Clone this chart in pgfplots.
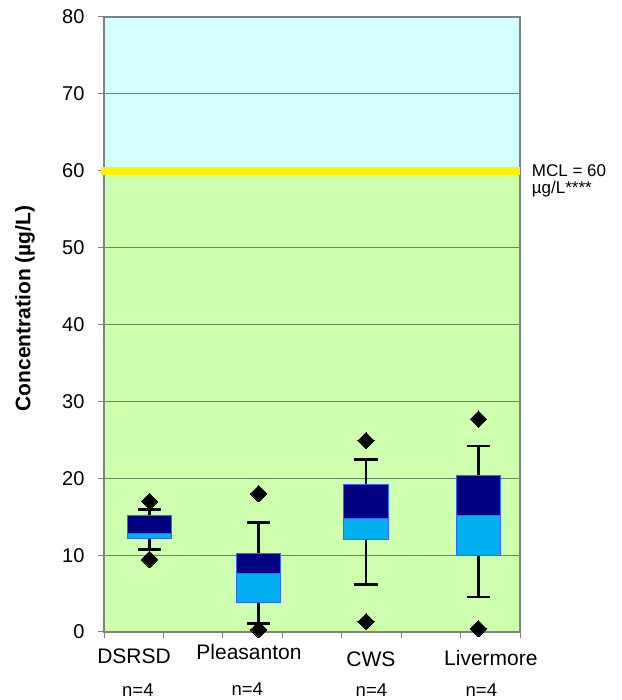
\documentclass[border=0pt]{standalone}
\usepackage{pgfplots}
\pgfplotsset{compat=1.18}
\usepgfplotslibrary{statistics}
\usepackage{fontspec}
\setmainfont{Liberation Sans}
\definecolor{lgreen}{RGB}{205,255,175}
\definecolor{lcyan}{RGB}{212,255,255}
\definecolor{navyb}{RGB}{0,0,128}
\definecolor{lblue}{RGB}{0,176,240}
\definecolor{boxedge}{RGB}{51,102,255}
\definecolor{gridc}{RGB}{105,135,95}
\definecolor{axgray}{RGB}{128,128,128}
\pgfplotsset{
  twobox/.style={
    boxplot/draw direction=y,
    boxplot/draw/box/.code={%
      \draw[fill=lblue, draw=boxedge, line width=1pt]
        (boxplot box cs:\pgfplotsboxplotvalue{lower quartile},0) rectangle
        (boxplot box cs:\pgfplotsboxplotvalue{median},1);
      \draw[fill=navyb, draw=boxedge, line width=1pt]
        (boxplot box cs:\pgfplotsboxplotvalue{median},0) rectangle
        (boxplot box cs:\pgfplotsboxplotvalue{upper quartile},1);
    },
    boxplot/draw/median/.code={},
    boxplot/every whisker/.style={black, line width=2.8pt},
    boxplot/box extend=0.745,
    boxplot/whisker extend=0.39,
    mark=square*, mark size=5.8pt,
    mark options={rotate=45, fill=black, draw=black, solid, line width=0pt},
    draw=black,
  },
}
\begin{document}
\begin{tikzpicture}
\begin{axis}[
  at={(0,0)}, anchor=south west,
  set layers,
  scale only axis, width=416pt, height=615pt,
  xmin=0, xmax=7, ymin=0, ymax=80,
  xtick={0,1,...,7}, xticklabels={},
  ytick={0,10,...,80},
  xtick pos=bottom, ytick pos=left,
  tick align=outside, major tick length=6pt,
  tick style={axgray, line width=1pt},
  ymajorgrids, grid style={gridc, line width=0.8pt},
  axis line style={axgray, line width=1.5pt},
  /pgf/number format/assume math mode=true,
  ticklabel style={font=\fontsize{20}{24}\selectfont},
  yticklabel style={xshift=-10pt},
  ylabel={\bfseries Concentration (µg/L)},
  ylabel style={font=\fontsize{21}{25}\selectfont, at={(axis description cs:-0.19,0.526)}, anchor=center},
  clip=false,
]
% background zones
\addplot[on layer=axis background, fill=lgreen, draw=none] coordinates {(0,0) (7,0) (7,60) (0,60)} -- cycle;
\addplot[on layer=axis background, fill=lcyan, draw=none] coordinates {(0,60) (7,60) (7,80) (0,80)} -- cycle;
% MCL line
\addplot[yellow, line width=8pt] coordinates {(-0.05,60) (7,60)};
% boxes
\addplot[twobox, boxplot prepared={draw position=0.766, lower whisker=10.7, lower quartile=12.2, median=12.8, upper quartile=15.15, upper whisker=15.9}] coordinates {(0,17.0) (0,9.45)};
\addplot[twobox, boxplot prepared={draw position=2.603, lower whisker=1.08, lower quartile=3.9, median=7.6, upper quartile=10.2, upper whisker=14.2}] coordinates {(0,18.0) (0,0.3)};
\addplot[twobox, boxplot prepared={draw position=4.41, lower whisker=6.16, lower quartile=12.0, median=14.7, upper quartile=19.25, upper whisker=22.4}] coordinates {(0,24.9) (0,1.35)};
\addplot[twobox, boxplot prepared={draw position=6.30, lower whisker=4.55, lower quartile=9.97, median=15.1, upper quartile=20.4, upper whisker=24.2}] coordinates {(0,27.7) (0,0.43)};
% labels
\node[anchor=base, font=\fontsize{21}{25}\selectfont] at (axis cs:0.505,-4.16) {DSRSD};
\node[anchor=base, font=\fontsize{21}{25}\selectfont] at (axis cs:2.44,-3.64) {Pleasanton};
\node[anchor=base, font=\fontsize{21}{25}\selectfont] at (axis cs:4.49,-4.5) {CWS};
\node[anchor=base, font=\fontsize{21}{25}\selectfont] at (axis cs:6.51,-4.34) {Livermore};
\node[anchor=base, font=\fontsize{18.5}{22}\selectfont] at (axis cs:0.57,-8.45) {n=4};
\node[anchor=base, font=\fontsize{18.5}{22}\selectfont] at (axis cs:2.41,-8.3) {n=4};
\node[anchor=base, font=\fontsize{18.5}{22}\selectfont] at (axis cs:4.50,-8.45) {n=4};
\node[anchor=base, font=\fontsize{18.5}{22}\selectfont] at (axis cs:6.35,-8.45) {n=4};
\node[anchor=base west, inner sep=0pt, font=\fontsize{17}{20}\selectfont] at (axis cs:7.197,59.25) {MCL = 60};
\node[anchor=base west, inner sep=0pt, font=\fontsize{17}{20}\selectfont] at (axis cs:7.197,57.1) {µg/L****};
\end{axis}
\pgfresetboundingbox
\path[use as bounding box] (-104pt,-68pt) rectangle (517pt,632pt);
\end{tikzpicture}
\end{document}
